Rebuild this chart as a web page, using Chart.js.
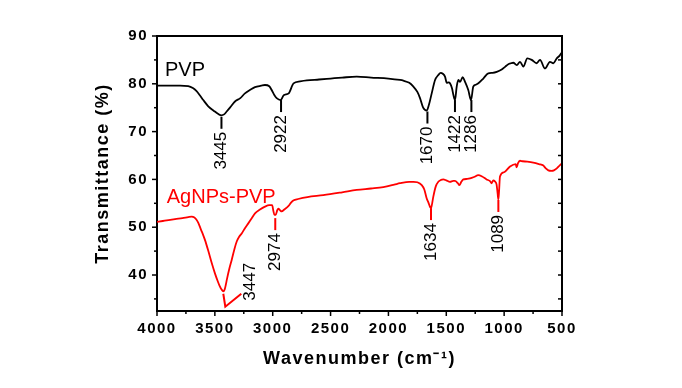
<!DOCTYPE html>
<html>
<head>
<meta charset="utf-8">
<script src="https://cdn.jsdelivr.net/npm/chart.js@4.4.0/dist/chart.umd.min.js"></script>
<style>
  html, body { margin: 0; padding: 0; background: #fff; }
</style>
</head>
<body>
<canvas id="grafico" width="682" height="388"></canvas>
<script>
// espectro PVP (numero de onda, transmitancia %)
var pvpWave = [4000, 3900, 3800, 3730, 3690, 3660, 3630, 3600, 3557, 3500, 3470, 3445, 3420, 3398, 3360, 3326, 3280, 3240, 3190, 3153, 3100, 3067, 3030, 3009, 2985, 2966, 2931, 2905, 2862, 2820, 2764, 2706, 2600, 2500, 2400, 2274, 2150, 2000, 1900, 1871, 1820, 1784, 1750, 1727, 1700, 1669, 1650, 1626, 1597, 1570, 1548, 1530, 1511, 1496, 1480, 1468, 1450, 1439, 1425, 1410, 1396, 1381, 1358, 1338, 1310, 1286, 1267, 1245, 1223, 1180, 1137, 1100, 1064, 1021, 990, 964, 940, 921, 891, 863, 834, 800, 762, 719, 690, 647, 604, 575, 546, 520, 503, 500]
var pvpT = [79.6, 79.6, 79.6, 79.5, 79.1, 78.5, 77.6, 76.6, 75.3, 74.2, 73.7, 73.4, 73.6, 74.2, 75.3, 76.3, 77.0, 78.0, 78.8, 79.3, 79.6, 79.75, 79.5, 78.7, 77.6, 77.0, 76.6, 77.6, 78.0, 80.1, 80.5, 80.7, 80.9, 81.1, 81.3, 81.5, 81.3, 81.1, 80.8, 80.65, 80.2, 79.4, 78.3, 77.0, 75.0, 74.4, 75.6, 78.0, 80.8, 81.8, 82.3, 82.1, 81.5, 80.2, 80.3, 80.1, 79.0, 77.7, 76.6, 79.4, 80.8, 80.4, 81.4, 80.4, 78.7, 76.6, 79.4, 79.8, 80.1, 81.1, 82.2, 82.3, 82.5, 83.0, 83.6, 84.1, 84.3, 84.4, 83.9, 84.6, 83.6, 85.3, 85.0, 84.3, 85.0, 83.2, 84.6, 84.3, 85.3, 85.9, 86.5, 86.6]

// espectro AgNPs-PVP
var agWave = [4000, 3950, 3900, 3844, 3780, 3730, 3700, 3680, 3660, 3643, 3620, 3600, 3585, 3555, 3527, 3500, 3475, 3460, 3440, 3427, 3415, 3405, 3395, 3375, 3355, 3330, 3311, 3290, 3268, 3240, 3211, 3180, 3153, 3110, 3067, 3030, 3005, 2995, 2985, 2975, 2960, 2952, 2935, 2923, 2900, 2865, 2840, 2822, 2780, 2700, 2563, 2400, 2274, 2150, 2044, 1950, 1900, 1820, 1784, 1750, 1712, 1690, 1669, 1655, 1640, 1632, 1622, 1612, 1590, 1569, 1545, 1526, 1500, 1468, 1440, 1425, 1400, 1387, 1370, 1353, 1320, 1295, 1260, 1223, 1190, 1152, 1120, 1108, 1094, 1080, 1066, 1056, 1050, 1044, 1036, 1000, 949, 900, 892, 880, 863, 840, 800, 748, 700, 661, 640, 618, 590, 570, 545, 517, 500]
var agT = [51.1, 51.3, 51.5, 51.7, 51.9, 52.1, 52.2, 52.1, 51.6, 50.9, 49.5, 48.3, 47.3, 44.9, 42.5, 40.4, 38.7, 37.8, 36.9, 36.6, 37.0, 38.0, 39.2, 41.3, 43.1, 45.5, 47.0, 48.0, 48.7, 49.8, 50.8, 51.9, 52.9, 53.7, 54.3, 54.6, 54.6, 53.5, 52.6, 52.6, 53.6, 53.9, 53.5, 53.3, 53.7, 54.4, 55.2, 55.6, 55.9, 56.3, 56.7, 57.3, 57.8, 58.1, 58.4, 58.9, 59.2, 59.5, 59.5, 59.4, 58.8, 57.9, 56.0, 55.2, 54.2, 54.0, 55.0, 56.4, 58.6, 59.5, 59.9, 60.0, 59.8, 59.5, 59.7, 59.7, 59.2, 58.8, 59.5, 60.0, 60.1, 60.2, 60.5, 60.9, 60.6, 60.0, 59.6, 59.2, 59.8, 59.6, 59.0, 57.0, 55.8, 57.5, 60.6, 61.5, 62.7, 63.2, 62.5, 63.4, 63.9, 63.8, 63.7, 63.5, 63.2, 62.9, 62.3, 61.9, 61.8, 61.9, 62.3, 63.0, 63.3]

// eixos
var xTicks = [4000, 3500, 3000, 2500, 2000, 1500, 1000, 500]
var xMinor = [3750, 3250, 2750, 2250, 1750, 1250, 750]
var yTicks = [40, 50, 60, 70, 80, 90]
var yMinor = [35, 45, 55, 65, 75, 85]

// picos marcados
var pvpPeakWave = [3443, 2928, 1663, 1425, 1283]
var pvpPeakT = [73.1, 76.6, 74.2, 76.6, 76.6]
var pvpPeakLabel = ['3445', '2922', '1670', '1422', '1286']

var agPeakWave = [3427, 2978, 1632, 1050]
var agPeakT = [36.5, 51.9, 54.0, 55.7]
var agPeakLabel = ['3447', '2974', '1634', '1089']

// nomes das curvas
var serieNomes = ['PVP', 'AgNPs-PVP']
var serieNomeWave = [3931, 3916]
var serieNomeT = [81.6, 55.1]

var fonte = '"Liberation Sans", Arial, sans-serif'
Chart.defaults.font.family = fonte
Chart.defaults.color = '#000'

function linha(ctx, x1, y1, x2, y2) {
  ctx.beginPath()
  ctx.moveTo(x1, y1)
  ctx.lineTo(x2, y2)
  ctx.stroke()
}

function textoVertical(ctx, texto, x, y, alinha) {
  ctx.save()
  ctx.translate(x, y)
  ctx.rotate(-Math.PI / 2)
  ctx.fillStyle = '#000'
  ctx.font = '17px ' + fonte
  ctx.textAlign = alinha || 'right'
  ctx.textBaseline = 'middle'
  ctx.fillText(texto, 0, 0)
  ctx.restore()
}

var desenho = {
  id: 'desenho',
  beforeDraw: function(chart) {
    chart.ctx.letterSpacing = '1.5px'
  },
  afterDatasetsDraw: function(chart) {
    var ctx = chart.ctx
    var sx = chart.scales.x
    var sy = chart.scales.y
    var a = chart.chartArea
    ctx.save()
    ctx.letterSpacing = '0px'
    ctx.strokeStyle = '#000'

    // moldura superior e direita
    ctx.lineWidth = 2
    ctx.beginPath()
    ctx.moveTo(a.left, a.top)
    ctx.lineTo(a.right, a.top)
    ctx.lineTo(a.right, a.bottom)
    ctx.stroke()

    // marcas dos eixos
    ctx.lineWidth = 1.5
    xTicks.forEach(function(v) {
      var px = sx.getPixelForValue(v)
      linha(ctx, px, a.bottom, px, a.bottom + 5)
    })
    xMinor.forEach(function(v) {
      var px = sx.getPixelForValue(v)
      linha(ctx, px, a.bottom, px, a.bottom + 3)
    })
    yTicks.forEach(function(v) {
      var py = sy.getPixelForValue(v)
      linha(ctx, a.left - 5, py, a.left, py)
      linha(ctx, a.right - 4, py, a.right, py)
    })
    yMinor.forEach(function(v) {
      var py = sy.getPixelForValue(v)
      linha(ctx, a.left - 3, py, a.left, py)
      linha(ctx, a.right - 4, py, a.right, py)
    })

    // picos PVP
    ctx.lineWidth = 2
    ctx.strokeStyle = '#000'
    pvpPeakWave.forEach(function(w, i) {
      var px = sx.getPixelForValue(w)
      var py = sy.getPixelForValue(pvpPeakT[i])
      linha(ctx, px, py, px, py + 12)
      textoVertical(ctx, pvpPeakLabel[i], px, py + 15)
    })

    // picos AgNPs-PVP (o primeiro tem a marca em V)
    ctx.strokeStyle = '#ff0000'
    agPeakWave.forEach(function(w, i) {
      var px = sx.getPixelForValue(w)
      var py = sy.getPixelForValue(agPeakT[i])
      if (i === 0) {
        ctx.beginPath()
        ctx.moveTo(px, py + 2)
        ctx.lineTo(px + 2, py + 15)
        ctx.lineTo(px + 18, py + 2)
        ctx.stroke()
        textoVertical(ctx, agPeakLabel[i], px + 27, py + 9, 'left')
      } else {
        linha(ctx, px, py, px, py + 12)
        textoVertical(ctx, agPeakLabel[i], px, py + 15)
      }
    })

    // nomes das curvas
    ctx.font = '20px ' + fonte
    ctx.textAlign = 'left'
    ctx.textBaseline = 'alphabetic'
    var cores = ['#000', '#ff0000']
    serieNomes.forEach(function(n, i) {
      ctx.fillStyle = cores[i]
      ctx.fillText(n, sx.getPixelForValue(serieNomeWave[i]), sy.getPixelForValue(serieNomeT[i]))
    })
    ctx.restore()
  }
}

var grafico = new Chart(document.getElementById('grafico'), {
  type: 'line',
  data: {
    datasets: [{
      label: 'PVP',
      data: pvpWave.map(function(w, i) { return { x: w, y: pvpT[i] } }),
      borderColor: '#000',
      borderWidth: 1.8,
      pointRadius: 0,
      cubicInterpolationMode: 'monotone'
    }, {
      label: 'AgNPs-PVP',
      data: agWave.map(function(w, i) { return { x: w, y: agT[i] } }),
      borderColor: '#ff0000',
      borderWidth: 1.8,
      pointRadius: 0,
      cubicInterpolationMode: 'monotone'
    }]
  },
  options: {
    responsive: false,
    animation: false,
    devicePixelRatio: 1,
    layout: { padding: { left: 92, right: 120, top: 36, bottom: 18 } },
    plugins: { legend: { display: false }, tooltip: { enabled: false } },
    scales: {
      x: {
        type: 'linear',
        reverse: true,
        min: 500,
        max: 4000,
        afterBuildTicks: function(s) { s.ticks = xTicks.map(function(v) { return { value: v } }) },
        afterFit: function(s) { s.height = 59 },
        grid: { display: false, drawTicks: false },
        border: { display: true, color: '#000', width: 2 },
        ticks: {
          color: '#000', font: { size: 15, weight: 'bold' }, padding: 9, maxRotation: 0, autoSkip: false,
          callback: function(v) { return String(v) }
        },
        title: { display: true, text: 'Wavenumber (cm\u207B\u00B9)', color: '#000', font: { size: 18, weight: 'bold' }, padding: 0 }
      },
      y: {
        min: 32.47,
        max: 90,
        afterBuildTicks: function(s) { s.ticks = yTicks.map(function(v) { return { value: v } }) },
        afterFit: function(s) { s.width = 65 },
        grid: { display: false, drawTicks: false },
        border: { display: true, color: '#000', width: 2 },
        ticks: { color: '#000', font: { size: 15, weight: 'bold' }, padding: 9, callback: function(v) { return String(v) } },
        title: { display: true, text: 'Transmittance (%)', color: '#000', font: { size: 18, weight: 'bold' }, padding: 0 }
      }
    }
  },
  plugins: [desenho]
})
</script>
</body>
</html>
